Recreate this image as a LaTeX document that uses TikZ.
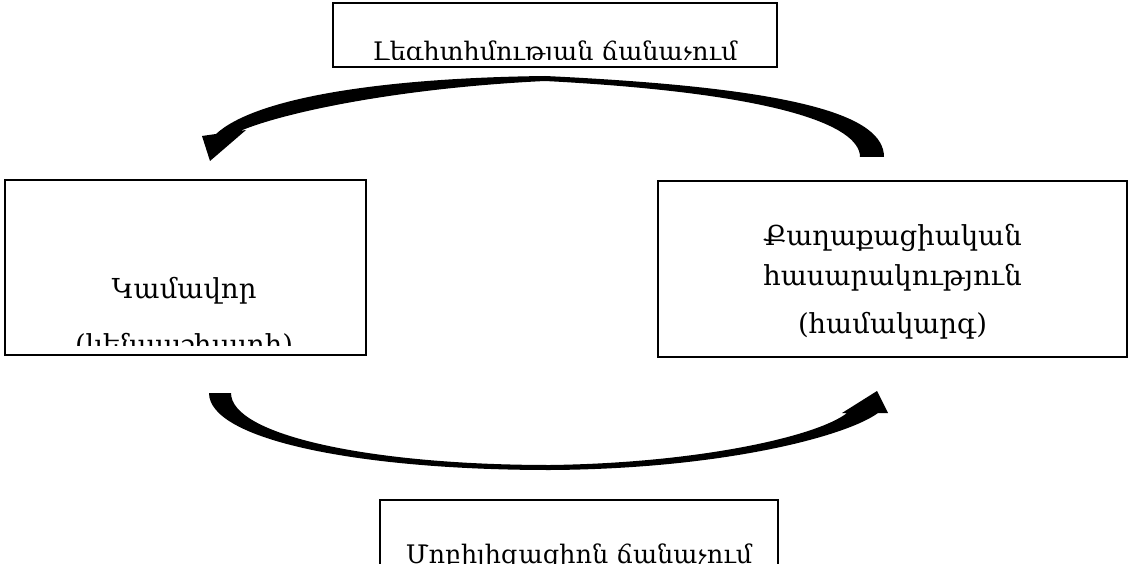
\documentclass[tikz,border=0pt]{standalone}
\usepackage{fontspec}
\setmainfont{DejaVu Serif}
\usetikzlibrary{positioning}

\begin{document}
\begin{tikzpicture}[x=1pt,y=-1pt,semithick]
  \tikzstyle{sidebox}=[draw,rectangle,line width=2.8pt,inner sep=0pt]
  \tikzstyle{tagbox}=[draw,rectangle,line width=1.4pt,inner sep=0pt]
  \tikzstyle{boxtext}=[anchor=base,inner sep=0pt,font=\fontsize{27.5}{33}\selectfont]
  \tikzstyle{tagtext}=[anchor=base,inner sep=0pt,font=\fontsize{25.5}{30}\selectfont]
  \tikzstyle{bigarrow}=[fill=black,draw=none]

  \useasboundingbox (0,0) rectangle (1131,564);

  % boxes
  \node[tagbox,minimum width=444pt,minimum height=64pt] (legit) at (555,35) {};
  \node[sidebox,minimum width=361pt,minimum height=175pt] (vol) at (185.5,267.5) {};
  \node[sidebox,minimum width=469pt,minimum height=176pt] (civ) at (892.5,269) {};
  \node[tagbox,minimum width=398pt,minimum height=120pt] (mob) at (579,560) {};

  % texts
  \begin{scope}
    \clip (334,4) rectangle (776,60);
    \node[tagtext] (legittext) at (555,61) {Լեգիտիմության ճանաչում};
  \end{scope}
  \node[boxtext] (vol1) at (184,298) {Կամավոր};
  \begin{scope}
    \clip (7,300) rectangle (364,345);
    \node[boxtext] (vol2) [below=56pt of vol1.base,anchor=base] {(կենսաշխարհ)};
  \end{scope}
  \node[boxtext] (civ1) at (892.5,245) {Քաղաքացիական};
  \node[boxtext] (civ2) [below=40pt of civ1.base,anchor=base] {հասարակություն};
  \node[boxtext] (civ3) [below=48pt of civ2.base,anchor=base] {(համակարգ)};
  \node[tagtext] (mobtext) at (579,563) {Մոբիլիզացիոն ճանաչում};

  % curved arrows
  \fill[bigarrow] (884,157) .. controls (884,116) and (800,88) .. (545,76)
    .. controls (380,78) and (255,98) .. (216,134)
    -- (202,136) -- (210,161) -- (246,130) -- (240,131)
    .. controls (285,112) and (400,88) .. (545,81)
    .. controls (775,93) and (860,125) .. (860,157) -- cycle;
  \fill[bigarrow] (209,393) .. controls (209,440) and (360,470) .. (550,470)
    .. controls (720,469) and (845,437) .. (878,413)
    -- (888,413) -- (877,391) -- (842,413) -- (847,413)
    .. controls (818,436) and (700,463) .. (550,465)
    .. controls (370,465) and (231,435) .. (231,393) -- cycle;
\end{tikzpicture}
\end{document}
